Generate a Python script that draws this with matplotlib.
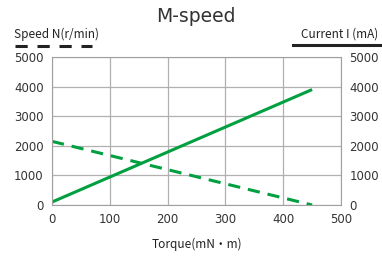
import matplotlib
matplotlib.use("Agg")
import matplotlib.pyplot as plt
from matplotlib.lines import Line2D

torque = [0, 450]
current = [100, 3900]
speed = [2150, 0]
xticks = [0, 100, 200, 300, 400, 500]
yticks = [0, 1000, 2000, 3000, 4000, 5000]

plt.rcParams['font.family'] = ['DejaVu Sans']
green = '#00a040'
cjk = ['Noto Sans CJK JP', 'DejaVu Sans']
fig = plt.figure(figsize=(3.82, 2.6), dpi=100)
ax = fig.add_axes([52/382, 1-205/260, (341-52)/382, (205-57)/260])
ax.set_xlim(0, 500)
ax.set_ylim(0, 5000)
ax.set_xticks(xticks)
ax.set_yticks(yticks)
ax.grid(True, color='#b0b0b0', linewidth=0.9)
ax.set_axisbelow(True)
for s in ax.spines.values():
    s.set_color('#a0a0a0')
ax.tick_params(length=0, labelsize=8.5, colors='#333333', pad=6)
ax.plot(torque, current, color=green, lw=2.2, solid_capstyle='butt')
ax.plot(torque, speed, color=green, lw=2.2, dashes=(4, 2.6))
ax2 = ax.twinx()
ax2.set_ylim(0, 5000)
ax2.set_yticks(yticks)
ax2.tick_params(length=0, labelsize=8.5, colors='#333333', pad=6)
for s in ax2.spines.values():
    s.set_visible(False)
ax.set_xlabel('Torque(mN・m)', fontsize=8.5, family=cjk, labelpad=8, color='#222222')

fig.text(196/382, 1-16/260, 'M-speed', ha='center', va='center', fontsize=13.5, color='#333333')
fig.text(14/382, 1-34/260, 'Speed N(r/min)', ha='left', va='center', fontsize=8.5,
         family=cjk, color='#222222')
fig.text(378/382, 1-34/260, 'Current I (mA)', ha='right', va='center', fontsize=8.5,
         family=cjk, color='#222222')
fig.add_artist(Line2D([15/382, 92/382], [1-46/260, 1-46/260], color='#222222', lw=2.2,
                      dashes=(4, 3.2), transform=fig.transFigure))
fig.add_artist(Line2D([293/382, 380/382], [1-45/260, 1-45/260], color='#222222', lw=2.2,
                      transform=fig.transFigure))
fig.savefig('out.png', dpi=100)
